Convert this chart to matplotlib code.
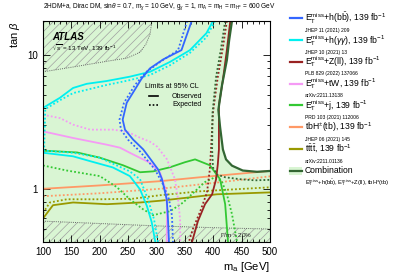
import matplotlib
matplotlib.use("Agg")
import matplotlib.pyplot as plt
from matplotlib.lines import Line2D
from matplotlib.patches import Rectangle
import matplotlib.ticker as mticker

plt.rcParams['font.family'] = ['Liberation Sans', 'DejaVu Sans']
plt.rcParams['mathtext.fontset'] = 'custom'
plt.rcParams['mathtext.rm'] = 'Liberation Sans'
plt.rcParams['mathtext.it'] = 'Liberation Sans:italic'
plt.rcParams['mathtext.bf'] = 'Liberation Sans:bold'
plt.rcParams['hatch.linewidth'] = 0.5

# axis range
xmin, xmax = 100, 500
ymin, ymax = 0.4, 18

# E_T^miss + h(bb)
bb_obs_m = [362, 344, 312, 288.5, 274, 265, 247.5, 240.4, 244.5, 259, 276.7, 302.6, 309.7, 318, 320, 322]
bb_obs_tb = [18, 10.9, 9.3, 7.96, 6.7, 5.8, 4.4, 3.29, 2.77, 2.33, 1.97, 1.40, 1.18, 0.835, 0.625, 0.4]
bb_exp_m = [354, 338, 306, 281.5, 262, 242.7, 234.8, 237.4, 249.8, 271, 297, 311.4, 322, 327.3, 329]
bb_exp_tb = [18, 10.9, 8.87, 7.47, 5.98, 4.4, 3.29, 2.77, 2.33, 1.90, 1.40, 1.08, 0.835, 0.625, 0.4]

# E_T^miss + h(yy)
yy_obs_m = [399.5, 388, 359, 323.8, 288.5, 253, 212, 177, 153, 130, 100, 100, 100.5, 153, 183, 223, 253, 271, 283, 291.5, 297, 298]
yy_obs_tb = [18, 14.6, 10.9, 8.9, 7.5, 6.9, 6.4, 6.1, 5.68, 4.8, 4.03, 1.9, 1.86, 1.75, 1.61, 1.445, 1.245, 0.99, 0.745, 0.564, 0.421, 0.4]
yy_exp_m = [403, 388, 359, 323.8, 288.5, 253, 212, 153, 130, 104, 102, 153, 200, 253, 271, 285, 295.6, 302.6]
yy_exp_tb = [18, 13.6, 10.4, 8.4, 7.1, 6.5, 5.98, 5.2, 4.6, 3.95, 1.93, 1.86, 1.71, 1.35, 1.18, 0.835, 0.593, 0.4]

# E_T^miss + Z(ll)
zll_obs_m = [430, 424, 417, 410, 410, 410, 408, 405, 398, 385.5, 373, 362.5]
zll_obs_tb = [18, 10.9, 6.52, 4.25, 2.77, 1.97, 1.52, 1.18, 0.91, 0.767, 0.573, 0.4]
zll_exp_m = [424, 417, 408, 399.5, 396, 394, 389, 376.6, 364, 357]
zll_exp_tb = [18, 11.4, 6.86, 3.70, 1.97, 1.40, 0.94, 0.67, 0.50, 0.4]

# E_T^miss + tW
tw_obs_m = [100, 153, 212, 235.7, 253, 288.5, 306, 316, 318.5, 318]
tw_obs_tb = [2.69, 2.4, 2.14, 2.03, 1.86, 1.565, 1.33, 0.99, 0.745, 0.4]
tw_exp_m = [100, 130, 153, 183, 223, 248, 271, 288.5, 301, 318.5, 332.5, 338, 341.5, 342]
tw_exp_tb = [3.58, 3.38, 3.02, 2.77, 2.77, 2.68, 2.41, 2.25, 2.07, 1.66, 1.18, 0.835, 0.593, 0.4]

# E_T^miss + j
j_obs_m = [100, 160, 200, 241, 271, 294, 324, 350, 368, 394, 412, 421, 426]
j_obs_tb = [1.93, 1.87, 1.71, 1.50, 1.33, 1.35, 1.45, 1.58, 1.66, 1.50, 1.18, 0.767, 0.4]
j_exp_m = [100, 142, 200, 230, 253, 276, 294, 324, 347, 368, 385, 403, 415, 424, 433, 442]
j_exp_tb = [1.495, 1.37, 1.245, 1.03, 0.835, 0.704, 0.635, 0.68, 0.79, 0.96, 1.12, 1.22, 1.14, 0.91, 0.646, 0.4]

# tbH+-(tb)
tbh_obs_m = [100, 200, 306, 376.6, 500]
tbh_obs_tb = [1.0, 1.06, 1.14, 1.22, 1.36]
tbh_exp_m = [100, 200, 306, 412, 500]
tbh_exp_tb = [0.88, 0.926, 1.0, 1.12, 1.24]

# tttt
tttt_obs_m = [100, 117.6, 153, 212.7, 271, 306, 406.6, 500]
tttt_obs_tb = [0.60, 0.754, 0.79, 0.767, 0.79, 0.814, 0.91, 0.94]
tttt_exp_m = [100, 112, 142, 200, 258.5, 306, 376.6, 500]
tttt_exp_tb = [0.658, 0.79, 0.835, 0.835, 0.843, 0.895, 0.958, 1.026]

# combination
comb_obs_m = [433, 428, 424, 415.5, 409, 412, 417, 422.5, 433, 452, 477, 500]
comb_obs_tb = [18, 12.9, 9.18, 5.98, 3.90, 2.91, 1.97, 1.66, 1.49, 1.37, 1.34, 1.36]
comb_exp_m = [421, 414, 405, 398.7, 398, 399.5, 406.6, 421, 447, 473.5, 500]
comb_exp_tb = [18, 11.4, 6.86, 3.70, 1.97, 1.445, 1.28, 1.22, 1.18, 1.157, 1.167]

# width > 20% regions
wide_top_m = [100, 153, 212.8, 248, 271, 281.5, 288.5, 292]
wide_top_tb = [7.5, 8.15, 9.0, 9.5, 10.5, 12.1, 14.3, 18]
wide_bot_m = [100, 200, 300, 400, 500]
wide_bot_tb = [0.573, 0.55, 0.528, 0.512, 0.50]

c_bb = "#3366ff"
c_yy = "#00f0f0"
c_zll = "#992222"
c_tw = "#f59af5"
c_j = "#33c833"
c_tbh = "#ff9966"
c_tttt = "#999900"
c_comb = "#336633"
c_fill = "#d9f5d3"
dots = (0, (1.0, 1.2))

fig = plt.figure(figsize=(4.07, 2.75), dpi=100)
ax = fig.add_axes([43/407, 1-242/275, 227/407, 221/275])
ax.set_yscale('log')
ax.set_xlim(xmin, xmax)
ax.set_ylim(ymin, ymax)

# excluded by combination
ax.fill(comb_obs_m + [xmax, xmin, xmin], comb_obs_tb + [ymin, ymin, ymax],
        color=c_fill, lw=0, zorder=0)

# hatched regions
ax.fill(wide_top_m + [xmin], wide_top_tb + [ymax], facecolor='none',
        edgecolor='#a0a0a0', hatch='////', lw=0, zorder=1)
ax.plot(wide_top_m, wide_top_tb, color='#666666', lw=0.7, ls=(0, (1, 1.2)), zorder=1)
ax.fill(wide_bot_m + [xmax, xmin], wide_bot_tb + [ymin, ymin], facecolor='none',
        edgecolor='#a0a0a0', hatch='////', lw=0, zorder=1)
ax.plot(wide_bot_m, wide_bot_tb, color='#666666', lw=0.7, ls=(0, (1, 1.2)), zorder=1)

lw = 1.3
ax.plot(tttt_obs_m, tttt_obs_tb, color=c_tttt, lw=lw)
ax.plot(tttt_exp_m, tttt_exp_tb, color=c_tttt, lw=lw, ls=dots)
ax.plot(tbh_obs_m, tbh_obs_tb, color=c_tbh, lw=lw)
ax.plot(tbh_exp_m, tbh_exp_tb, color=c_tbh, lw=lw, ls=dots)
ax.plot(j_obs_m, j_obs_tb, color=c_j, lw=lw)
ax.plot(j_exp_m, j_exp_tb, color=c_j, lw=lw, ls=dots)
ax.plot(tw_obs_m, tw_obs_tb, color=c_tw, lw=lw)
ax.plot(tw_exp_m, tw_exp_tb, color=c_tw, lw=lw, ls=dots)
ax.plot(yy_obs_m, yy_obs_tb, color=c_yy, lw=lw)
ax.plot(yy_exp_m, yy_exp_tb, color=c_yy, lw=lw, ls=dots)
ax.plot(bb_obs_m, bb_obs_tb, color=c_bb, lw=lw)
ax.plot(bb_exp_m, bb_exp_tb, color=c_bb, lw=lw, ls=dots)
ax.plot(zll_obs_m, zll_obs_tb, color=c_zll, lw=lw)
ax.plot(zll_exp_m, zll_exp_tb, color=c_zll, lw=lw, ls=dots)
ax.plot(comb_obs_m, comb_obs_tb, color=c_comb, lw=1.6)
ax.plot(comb_exp_m, comb_exp_tb, color=c_comb, lw=lw, ls=dots)

ax.xaxis.set_major_locator(mticker.MultipleLocator(50))
ax.xaxis.set_minor_locator(mticker.MultipleLocator(10))
ax.yaxis.set_major_locator(mticker.FixedLocator([1, 10]))
ax.yaxis.set_major_formatter(mticker.FixedFormatter(['1', '10']))
ax.yaxis.set_minor_locator(mticker.LogLocator(subs=range(2, 10), numticks=20))
ax.yaxis.set_minor_formatter(mticker.NullFormatter())
ax.tick_params(which='both', direction='in', top=True, right=True, labelsize=7, width=0.6)
ax.tick_params(which='major', length=5)
ax.tick_params(which='minor', length=2.5)
for s in ax.spines.values():
    s.set_linewidth(0.8)

ax.set_xlabel(r"m$_{\mathrm{a}}$ [GeV]", fontsize=8, loc='right', labelpad=2)
ax.set_ylabel(r"tan $\beta$", fontsize=8, loc='top', labelpad=4)

# texts on plot
fig.text(52/407, 1-37/275, "ATLAS", fontsize=7, fontweight='bold', style='italic', va='center')
fig.text(52/407, 1-48/275, r"$\sqrt{s}$ = 13 TeV, 139 fb$^{-1}$", fontsize=4.6, va='center')
fig.text(43/407, 1-7/275,
         r"2HDM+a, Dirac DM, sin$\theta$ = 0.7, m$_{\chi}$ = 10 GeV, g$_{\chi}$ = 1, "
         r"m$_{\mathrm{A}}$ = m$_{\mathrm{H}}$ = m$_{\mathrm{H^{\pm}}}$ = 600 GeV",
         fontsize=4.7, va='center')
fig.text(220/407, 1-235/275, r"$\Gamma$/m > 20%", fontsize=4.6, va='center', color='#222222')

fig.text(145/407, 1-86.5/275, "Limits at 95% CL", fontsize=5, va='center')
fig.add_artist(Line2D([149/407, 158/407], [1-96/275]*2, color='k', lw=1.2))
fig.add_artist(Line2D([149/407, 158/407], [1-105/275]*2, color='k', lw=1.2, ls=dots))
fig.text(172/407, 1-96/275, "Observed", fontsize=5, va='center')
fig.text(172/407, 1-105/275, "Expected", fontsize=5, va='center')

# legend
Et = r"E$_{\mathrm{T}}^{\mathrm{miss}}$"
leg_labels = [Et + r"+h(b$\bar{\mathrm{b}}$), 139 fb$^{-1}$",
              Et + r"+h($\gamma\gamma$), 139 fb$^{-1}$",
              Et + r"+Z(ll), 139 fb$^{-1}$",
              Et + r"+tW, 139 fb$^{-1}$",
              Et + r"+j, 139 fb$^{-1}$",
              r"tbH$^{\pm}$(tb), 139 fb$^{-1}$",
              r"t$\bar{\mathrm{t}}$t$\bar{\mathrm{t}}$, 139 fb$^{-1}$",
              "Combination"]
leg_refs = ["JHEP 11 (2021) 209", "JHEP 10 (2021) 13", "PLB 829 (2022) 137066",
            "arXiv:2211.13138", "PRD 103 (2021) 112006", "JHEP 06 (2021) 145",
            "arXiv:2211.01136",
            Et + r"+h(b$\bar{\mathrm{b}}$), " + Et + r"+Z(ll), tbH$^{\pm}$(tb)"]
leg_colors = [c_bb, c_yy, c_zll, c_tw, c_j, c_tbh, c_tttt, c_comb]

for i, (lab, ref, col) in enumerate(zip(leg_labels, leg_refs, leg_colors)):
    yp = 18.3 + 21.8 * i
    if i == 7:
        fig.add_artist(Rectangle((289/407, 1-(yp+4)/275), 13/407, 8/275,
                                 color=c_fill, lw=0))
    fig.add_artist(Line2D([290/407, 302/407], [1-yp/275]*2, color=col, lw=1.6))
    fig.text(305/407, 1-yp/275, lab, fontsize=6.2, va='center')
    fig.text(305/407, 1-(yp+12)/275, ref, fontsize=3.6 if i < 7 else 4.2, va='center')

fig.savefig("out.png", dpi=100)
